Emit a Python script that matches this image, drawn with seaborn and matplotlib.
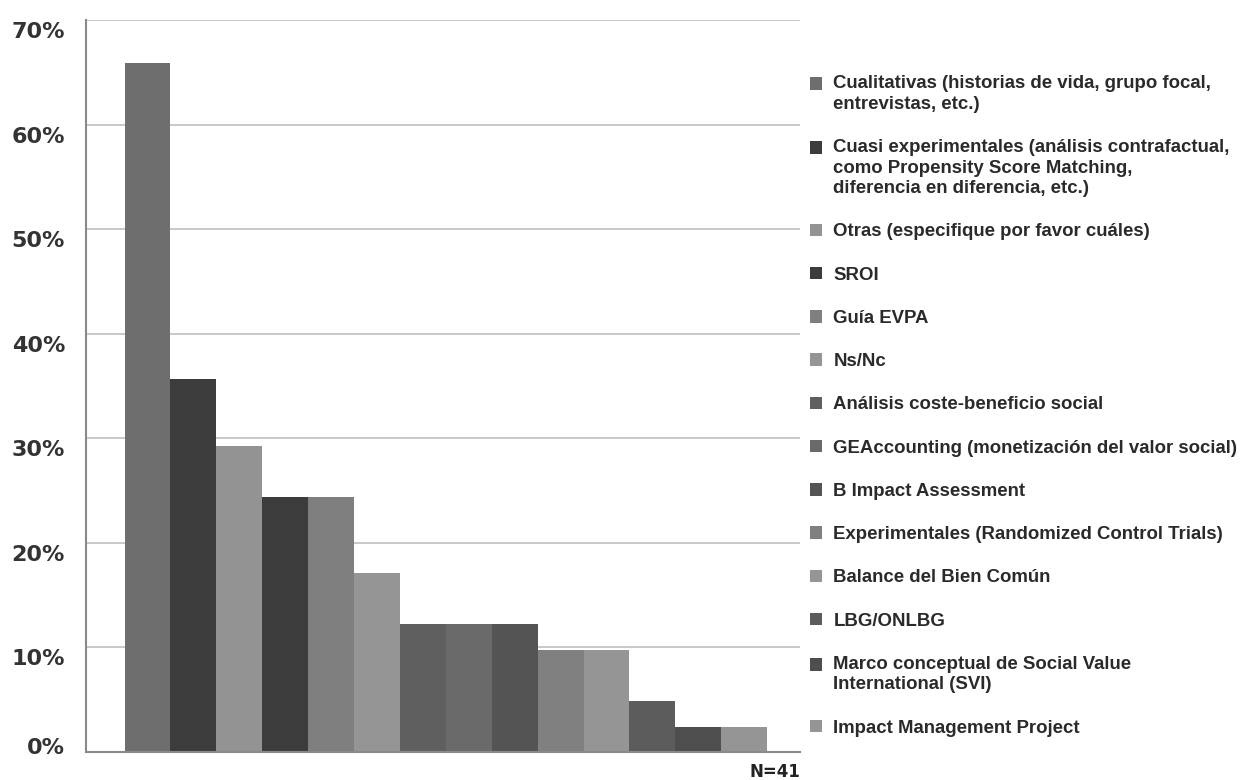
import matplotlib
matplotlib.use("Agg")
import matplotlib.pyplot as plt
import matplotlib.transforms as mtransforms
import seaborn as sns
import pandas as pd
from matplotlib.patches import Patch, Rectangle
from matplotlib.legend_handler import HandlerPatch

metodos = [
    "Cualitativas (historias de vida, grupo focal,\nentrevistas, etc.)",
    "Cuasi experimentales (análisis contrafactual,\ncomo Propensity Score Matching,\ndiferencia en diferencia, etc.)",
    "Otras (especifique por favor cuáles)",
    "SROI",
    "Guía EVPA",
    "Ns/Nc",
    "Análisis coste-beneficio social",
    "GEAccounting (monetización del valor social)",
    "B Impact Assessment",
    "Experimentales (Randomized Control Trials)",
    "Balance del Bien Común",
    "LBG/ONLBG",
    "Marco conceptual de Social Value\nInternational (SVI)",
    "Impact Management Project",
]
porcentajes = [65.9, 35.7, 29.3, 24.4, 24.4, 17.1, 12.2, 12.2, 12.2, 9.8, 9.8, 4.9, 2.4, 2.4]
colores = ["#6e6e6e", "#3c3c3c", "#939393", "#3c3c3c", "#7f7f7f", "#959595", "#5f5f5f",
           "#6a6a6a", "#545454", "#808080", "#959595", "#5c5c5c", "#4e4e4e", "#959595"]
yticks = [0, 10, 20, 30, 40, 50, 60, 70]
ytick_labels = ["0%", "10%", "20%", "30%", "40%", "50%", "60%", "70%"]
nota = "N=41"

df = pd.DataFrame({"grupo": [""] * len(metodos), "metodo": metodos, "pct": porcentajes})

sns.set_theme(style="white")
plt.rcParams["font.family"] = ["Liberation Sans", "DejaVu Sans"]

fig = plt.figure(figsize=(12.41, 7.80), dpi=100)
ax = fig.add_axes([86 / 1241, 1 - 752 / 780, (800 - 86) / 1241, (752 - 20) / 780])

sns.barplot(data=df, x="grupo", y="pct", hue="metodo", hue_order=metodos,
            palette=colores, width=0.9, dodge=True, saturation=1,
            edgecolor="none", linewidth=0, ax=ax, legend=False)

ax.set_xlim(-0.504, 0.496)
ax.set_ylim(0, 70)
ax.set_yticks(yticks)
ax.set_yticklabels([])
ax.tick_params(axis="y", length=0)
ax.set_xticks([])
ax.set_xlabel("")
ax.set_ylabel("")
ax.yaxis.grid(True, color="#c4c4c4", linewidth=1.3)
ax.set_axisbelow(True)
for s in ["top", "right"]:
    ax.spines[s].set_visible(False)
for s in ["left", "bottom"]:
    ax.spines[s].set_color("#8a8a8a")
    ax.spines[s].set_linewidth(1.5)

# y labels hang just below their grid line; the base label sits just above the axis
base = mtransforms.blended_transform_factory(ax.transAxes, ax.transData)
for v, lab in zip(yticks, ytick_labels):
    dy_px = 4 if v == 0 else -12
    tr = mtransforms.offset_copy(base, fig=fig, x=-21 * 0.72, y=dy_px * 0.72, units="points")
    ax.text(0, v, lab, transform=tr, ha="right", va="center",
            fontfamily="DejaVu Sans", fontweight="bold", fontsize=16, color="#333333")


class FirstLineSquare(HandlerPatch):
    """Legend square aligned with the first line of a wrapped label."""

    def __init__(self, nlines, line_pt=14.8, **kw):
        super().__init__(**kw)
        self.nlines = nlines
        self.line_pt = line_pt

    def create_artists(self, legend, orig_handle, xdescent, ydescent,
                       width, height, fontsize, trans):
        lift = (self.nlines - 1) * self.line_pt / 2
        p = Rectangle((-xdescent, -ydescent + lift), width, height)
        self.update_prop(p, orig_handle, legend)
        p.set_transform(trans)
        return [p]


handles = [Patch(facecolor=c, edgecolor="none") for c in colores]
hmap = {h: FirstLineSquare(lab.count("\n") + 1) for h, lab in zip(handles, metodos)}
leg = fig.legend(handles, metodos, loc="upper left", bbox_to_anchor=(810 / 1241, 1 - 75 / 780),
                 frameon=False, prop={"family": "Liberation Sans", "weight": "bold", "size": 13.4},
                 handlelength=0.65, handleheight=0.65, handletextpad=0.6, handler_map=hmap,
                 labelspacing=1.41, borderpad=0, borderaxespad=0, labelcolor="#2a2a2a")
for t in leg.get_texts():
    t.set_linespacing(1.28)

fig.text(800 / 1241, 1 - 772 / 780, nota, ha="right", va="center",
         fontfamily="DejaVu Sans", fontweight="bold", fontsize=12, color="#222222")

fig.savefig("out.png", dpi=100, facecolor="white")
